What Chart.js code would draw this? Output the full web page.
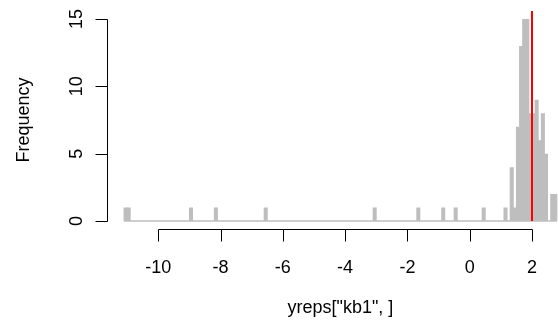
<!DOCTYPE html>
<html>
<head>
<meta charset="utf-8">
<script src="https://cdn.jsdelivr.net/npm/chart.js@4"></script>
<style>
html, body { margin: 0; padding: 0; background: #ffffff; overflow: hidden; }
#wrap { position: relative; width: 580px; height: 335px; }
</style>
</head>
<body>
<div id="wrap"><canvas id="c" width="580" height="335"></canvas></div>
<script>
// ---- data (bin width 0.1) ----
const binLefts = [-11.1, -11.0, -9.0, -8.2, -6.6, -3.1, -1.7, -0.9, -0.5, 0.4,
                  1.1, 1.3, 1.4, 1.5, 1.6, 1.7, 1.8, 1.9, 2.0, 2.1, 2.2, 2.3, 2.4, 2.6, 2.7];
const binCounts = [1, 1, 1, 1, 1, 1, 1, 1, 1, 1,
                   1, 4, 1, 7, 13, 15, 15, 8, 8, 9, 6, 8, 5, 2, 2];
const binWidth = 0.1;
const breaksRange = [-11.1, 2.8];
const observedValue = 2.0;
const xTicks = [-10, -8, -6, -4, -2, 0, 2];
const yTicks = [0, 5, 10, 15];
const xTitle = 'yreps["kb1", ]';
const yTitle = 'Frequency';

// R-style axis limits: data range extended by 4%
const xExt = (breaksRange[1] - breaksRange[0]) * 0.04;
const yMaxData = Math.max(...binCounts);
const yExt = yMaxData * 0.04;

const barData = binLefts.map((l, i) => ({ x: +(l + binWidth / 2).toFixed(3), y: binCounts[i] }));
const baseData = [{ x: breaksRange[0], y: 0 }, { x: breaksRange[1], y: 0 }];

const FONT = '"Liberation Sans", Arial, Helvetica, sans-serif';

const rAxes = {
  id: 'rAxes',
  afterDraw(chart) {
    const ctx = chart.ctx;
    const xs = chart.scales.x, ys = chart.scales.y;
    const area = chart.chartArea;
    // red observed line
    const ox = Math.round(xs.getPixelForValue(observedValue));
    ctx.save();
    ctx.strokeStyle = '#FF0000';
    ctx.lineWidth = 2;
    ctx.beginPath();
    ctx.moveTo(ox, area.top);
    ctx.lineTo(ox, ys.getPixelForValue(0));
    ctx.stroke();
    ctx.restore();

    ctx.save();
    ctx.strokeStyle = '#000000';
    ctx.lineWidth = 1;
    ctx.fillStyle = '#000000';
    const tickLen = 12;
    // x axis
    const yb = Math.round(area.bottom) + 0.5;
    ctx.beginPath();
    ctx.moveTo(Math.round(xs.getPixelForValue(xTicks[0])) + 0.5, yb);
    ctx.lineTo(Math.round(xs.getPixelForValue(xTicks[xTicks.length - 1])) + 0.5, yb);
    xTicks.forEach(t => {
      const px = Math.round(xs.getPixelForValue(t)) + 0.5;
      ctx.moveTo(px, yb);
      ctx.lineTo(px, yb + tickLen);
    });
    ctx.stroke();
    ctx.font = '18px ' + FONT;
    ctx.textAlign = 'center';
    ctx.textBaseline = 'middle';
    xTicks.forEach(t => {
      ctx.fillText(String(t), xs.getPixelForValue(t), 268);
    });
    ctx.fillText(xTitle, (area.left + area.right) / 2, 308);

    // y axis
    const xl = Math.round(area.left) + 0.5;
    ctx.beginPath();
    ctx.moveTo(xl, Math.round(ys.getPixelForValue(yTicks[0])) + 0.5);
    ctx.lineTo(xl, Math.round(ys.getPixelForValue(yTicks[yTicks.length - 1])) + 0.5);
    yTicks.forEach(t => {
      const py = Math.round(ys.getPixelForValue(t)) + 0.5;
      ctx.moveTo(xl, py);
      ctx.lineTo(xl - tickLen, py);
    });
    ctx.stroke();
    yTicks.forEach(t => {
      ctx.save();
      ctx.translate(77, ys.getPixelForValue(t));
      ctx.rotate(-Math.PI / 2);
      ctx.fillText(String(t), 0, 0);
      ctx.restore();
    });
    ctx.save();
    ctx.translate(24, (area.top + area.bottom) / 2);
    ctx.rotate(-Math.PI / 2);
    ctx.fillText(yTitle, 0, 0);
    ctx.restore();
    ctx.restore();
  }
};

new Chart(document.getElementById('c'), {
  type: 'bar',
  data: {
    datasets: [
      {
        type: 'line',
        data: baseData,
        borderColor: '#BEBEBE',
        borderWidth: 1.5,
        pointRadius: 0,
        order: 2
      },
      {
        type: 'bar',
        data: barData,
        backgroundColor: '#BEBEBE',
        borderWidth: 0,
        barPercentage: 1.3,
        categoryPercentage: 1,
        order: 1
      }
    ]
  },
  options: {
    responsive: false,
    animation: false,
    layout: { padding: { left: 106.7, right: 5.8, top: 10.9, bottom: 105.9 } },
    plugins: { legend: { display: false }, tooltip: { enabled: false } },
    scales: {
      x: {
        type: 'linear', display: false, offset: false,
        min: breaksRange[0] - xExt, max: breaksRange[1] + xExt
      },
      y: {
        type: 'linear', display: false,
        min: -yExt, max: yMaxData + yExt
      }
    }
  },
  plugins: [rAxes]
});
</script>
</body>
</html>
